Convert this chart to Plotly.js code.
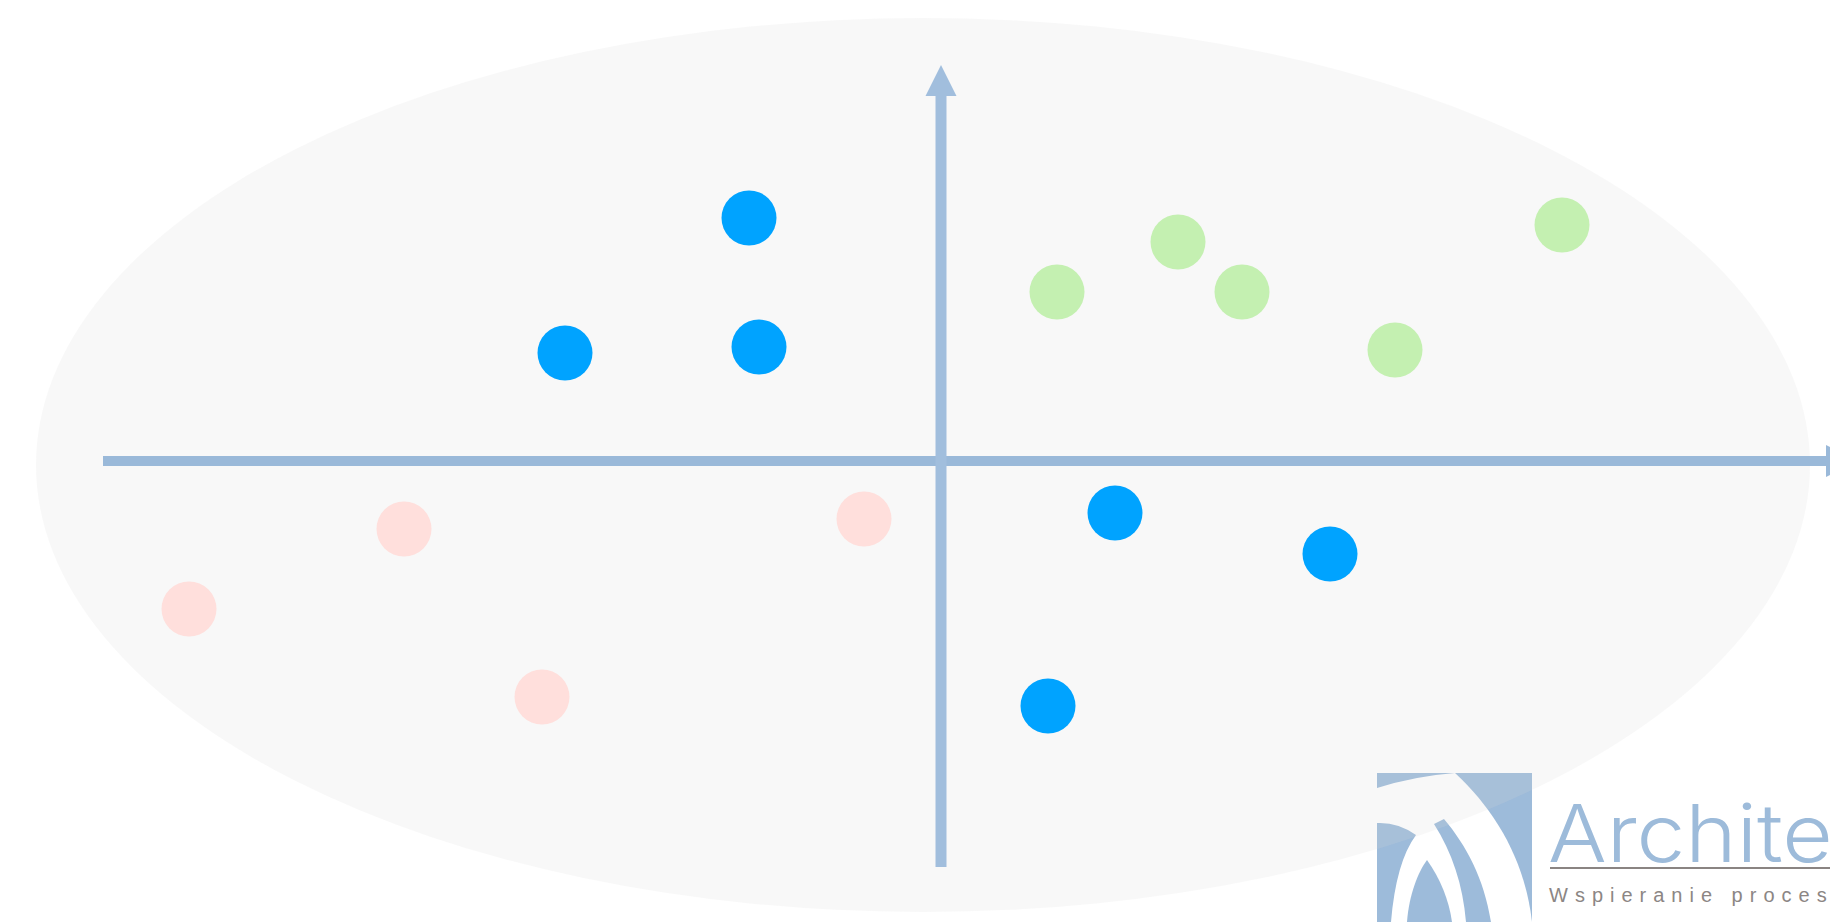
<!DOCTYPE html>
<html>
<head>
<meta charset="utf-8">
<script src="https://cdn.plot.ly/plotly-3.0.1.min.js"></script>
<style>
  html, body { margin: 0; padding: 0; background: #ffffff; overflow: hidden; }
  #chart { width: 1830px; height: 922px; overflow: hidden; }
</style>
</head>
<body>
<div id="chart"></div>
<script>
// ---- data (quadrant positions, x right / y up, origin at axes crossing) ----
const blueX  = [-1.92, -3.76, -1.82, 1.74, 3.89, 1.07];
const blueY  = [ 2.43,  1.08,  1.14, -0.52, -0.93, -2.45];
const greenX = [1.16, 2.37, 3.01, 4.54, 6.21];
const greenY = [1.69, 2.19, 1.69, 1.11, 2.36];
const pinkX  = [-5.37, -7.52, -0.77, -3.99];
const pinkY  = [-0.68, -1.48, -0.58, -2.36];
const logoTitle = "Architekt";
const logoSubtitle = "Wspieranie procesów";

const W = 1830, H = 922;
// convert a pixel-space SVG path into paper coordinates
function px(path) {
  return path.replace(/(-?\d+\.?\d*),(-?\d+\.?\d*)/g, function (m, a, b) {
    return (parseFloat(a) / W).toFixed(5) + ',' + (1 - parseFloat(b) / H).toFixed(5);
  });
}

const BLUE = '#00A3FF', GREEN = '#C4F0B1', PINK = '#FFDFDC';
const AXH = '#9AB9D9', AXV = '#A1BEDD', LOGO = '#9DBBDA';

function dots(x, y, c) {
  return { type: 'scatter', mode: 'markers', x: x, y: y, hoverinfo: 'skip',
    marker: { size: 55, color: c, line: { width: 0 } } };
}
function logoPart(p, c) {
  return { type: 'path', xref: 'paper', yref: 'paper', layer: 'below', line: { width: 0 },
    fillcolor: c, path: px(p) };
}

const shapes = [
  // logo graphic (below the translucent ellipse)
  logoPart('M1377,773 L1532,773 L1532,922 L1377,922 Z', LOGO),
  logoPart('M1377,788 Q1415,776 1455,773 C1495,810 1525,860 1532,922 L1377,922 Z', '#ffffff'),
  logoPart('M1377,823 Q1398,822 1416,835 Q1396,862 1391,922 L1377,922 Z', LOGO),
  logoPart('M1434,824 C1452,852 1463,885 1466,922 L1491,922 C1484,878 1466,845 1444,819 Z', LOGO),
  logoPart('M1407,922 C1409,895 1418,872 1427,860 C1440,878 1449,900 1452,922 Z', LOGO),
  // background ellipse
  { type: 'circle', xref: 'x', yref: 'y', layer: 'below', x0: -9.05, x1: 8.69, y0: -4.51, y1: 4.43,
    fillcolor: 'rgba(217,217,217,0.18)', line: { width: 0 } },
  // horizontal axis with arrow
  { type: 'rect', xref: 'x', yref: 'y', layer: 'below', x0: -8.38, x1: 8.85, y0: -0.05, y1: 0.05,
    fillcolor: AXH, line: { width: 0 } },
  { type: 'path', xref: 'x', yref: 'y', layer: 'below', path: 'M8.85,0.16 L9.17,0 L8.85,-0.16 Z',
    fillcolor: AXH, line: { width: 0 } },
  // vertical axis with arrow
  { type: 'rect', xref: 'x', yref: 'y', layer: 'below', x0: -0.055, x1: 0.055, y0: -4.06, y1: 3.65,
    fillcolor: AXV, line: { width: 0 } },
  { type: 'path', xref: 'x', yref: 'y', layer: 'below', path: 'M-0.155,3.65 L0,3.96 L0.155,3.65 Z',
    fillcolor: AXV, line: { width: 0 } },
  // logo rule line
  { type: 'line', xref: 'paper', yref: 'paper', layer: 'above',
    x0: 1550 / W, x1: 1.0, y0: 1 - 868 / H, y1: 1 - 868 / H, line: { color: '#8A8482', width: 2 } }
];

const annotations = [
  { xref: 'paper', yref: 'paper', x: 1546 / W, y: 1 - 832 / H, xanchor: 'left', yanchor: 'middle',
    text: logoTitle, showarrow: false,
    font: { family: 'Inter, Liberation Sans, sans-serif', size: 80, color: '#9DBBDA', weight: 300 } },
  { xref: 'paper', yref: 'paper', x: 1548 / W, y: 1 - 895 / H, xanchor: 'left', yanchor: 'middle',
    text: logoSubtitle, showarrow: false,
    font: { family: 'Liberation Sans, Arial, sans-serif', size: 20, color: '#8C8684' } }
];

const layout = {
  width: W, height: H,
  margin: { l: 0, r: 0, t: 0, b: 0, pad: 0 },
  paper_bgcolor: '#ffffff', plot_bgcolor: 'rgba(0,0,0,0)',
  showlegend: false,
  xaxis: { range: [-9.41, 8.89], visible: false, showgrid: false, zeroline: false, fixedrange: true },
  yaxis: { range: [-4.61, 4.61], visible: false, showgrid: false, zeroline: false, fixedrange: true },
  shapes: shapes,
  annotations: annotations
};

// place a text's left edge at target (px), optionally stretched horizontally
function alignLeft(el, target, sx) {
  const sc = 'scale(' + sx + ',1)';
  el.setAttribute('transform', sc);
  const r = el.getBoundingClientRect();
  const dx = (target - r.left).toFixed(1);
  el.setAttribute('transform', 'translate(' + dx + ',0) ' + sc);
}

Plotly.newPlot('chart', [dots(blueX, blueY, BLUE), dots(greenX, greenY, GREEN), dots(pinkX, pinkY, PINK)],
  layout, { staticPlot: true, displayModeBar: false }).then(function () {
  const txt = document.querySelectorAll('.annotation-text');
  if (txt.length > 1) {
    txt[1].style.letterSpacing = '7px';
    alignLeft(txt[0], 1548, 1.09);
    alignLeft(txt[1], 1549, 1);
  }
});
</script>
</body>
</html>
